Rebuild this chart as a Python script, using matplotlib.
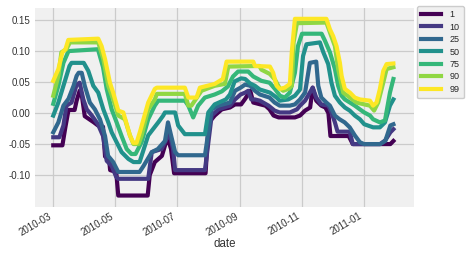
import matplotlib
matplotlib.use("Agg")
import matplotlib.pyplot as plt
import matplotlib.dates as mdates
import pandas as pd

# days since 2010-03-01 and rolling quantile values, one pair per percentile
start = pd.Timestamp("2010-03-01")

p1_days = [0, 9, 12, 15, 21, 23, 26, 28, 31, 40, 44, 49, 51, 55, 56, 62, 64, 93, 95, 100,
           107, 111, 113, 116, 119, 150, 153, 159, 166, 174, 179, 185, 189, 194, 197, 204, 209, 213, 217, 222,
           238, 243, 248, 253, 255.5, 259, 264, 268, 271, 273, 291, 295, 332, 335]
p1_vals = [-0.052, -0.052, -0.022, 0.005, 0.005, 0.02, 0.036, 0.03, -0.005, -0.015,
           -0.02, -0.022, -0.07, -0.075, -0.092, -0.095, -0.133, -0.133, -0.10, -0.079,
           -0.069, -0.047, -0.042, -0.058, -0.097, -0.097, -0.016, -0.004, 0.006, 0.009,
           0.014, 0.014, 0.023, 0.036, 0.017, 0.014, 0.012, 0.006, -0.004, -0.007,
           -0.007, -0.004, 0.004, 0.009, 0.041, 0.02, 0.012, 0.009, 0.0, -0.037,
           -0.037, -0.05, -0.05, -0.045]

p10_days = [0, 6, 10, 13, 18, 23, 26, 29.6, 33, 38, 44, 49, 52.6, 57.5, 62, 64, 93.5, 97, 106.6, 111.5,
            114.8, 118, 120, 149.4, 156, 162.6, 174, 179, 184.5, 189, 192, 195, 198.6, 203.5, 212, 218, 223, 233, 240, 243,
            248, 252.7, 255.5, 259, 264, 271, 274, 277.4, 280, 292, 295, 322, 327, 332, 335]
p10_vals = [-0.039, -0.039, -0.02, 0.012, 0.017, 0.046, 0.049, 0.022, 0.006, -0.004,
            -0.018, -0.037, -0.077, -0.085, -0.103, -0.106, -0.106, -0.063, -0.058, -0.042,
            -0.034, -0.058, -0.092, -0.092, -0.004, 0.006, 0.012, 0.022, 0.03, 0.033,
            0.036, 0.022, 0.022, 0.02, 0.012, 0.004, 0.001, 0.001, 0.006, 0.012,
            0.02, 0.033, 0.041, 0.025, 0.014, 0.012, 0.001, -0.015, -0.03, -0.03,
            -0.05, -0.05, -0.044, -0.031, -0.026]

p25_days = [0, 5, 10, 15, 20, 23, 25, 28, 31, 36, 41, 46, 51, 54, 59, 64, 85, 89, 97, 103,
            110, 113, 116, 120, 123, 149.4, 156, 162.6, 174, 179, 184.5, 189, 194, 198.6, 203.5, 213, 218, 223, 233, 238,
            243, 248, 252.7, 259, 261, 264, 269, 272.5, 277.4, 282, 287, 292, 297, 302, 306, 322, 327, 332, 335]
p25_vals = [-0.031, -0.015, 0.012, 0.023, 0.044, 0.06, 0.065, 0.065, 0.044, 0.017,
            0.006, -0.010, -0.037, -0.069, -0.079, -0.095, -0.095, -0.085, -0.063, -0.058,
            -0.045, -0.015, -0.036, -0.063, -0.068, -0.068, 0.006, 0.012, 0.017, 0.036,
            0.041, 0.046, 0.044, 0.036, 0.03, 0.025, 0.017, 0.012, 0.012, 0.014,
            0.022, 0.033, 0.081, 0.083, 0.044, 0.025, 0.017, 0.012, -0.004, -0.01,
            -0.015, -0.023, -0.036, -0.047, -0.05, -0.05, -0.045, -0.02, -0.018]

p50_days = [0, 5, 10, 16, 18, 30, 34.5, 39.4, 44.3, 49.3, 54.2, 57.5, 62.4, 67.3, 74, 79, 85, 87, 93.5, 103.4,
            108.3, 110, 120, 123, 129.6, 149.4, 152.7, 159, 170, 174, 178.6, 185, 189, 193.7, 198.6, 203.5, 213.4, 220, 223, 231.5,
            238, 243, 246, 249.4, 262.6, 266, 270.8, 274, 277.4, 282.3, 287.2, 292, 297, 302, 306.3, 315, 321.7, 326.7, 331.6, 335]
p50_vals = [-0.004, 0.017, 0.044, 0.076, 0.081, 0.081, 0.068, 0.044, 0.033, 0.006,
            -0.015, -0.031, -0.047, -0.063, -0.074, -0.079, -0.079, -0.069, -0.036, -0.015,
            -0.004, 0.001, 0.001, -0.02, -0.034, -0.034, 0.001, 0.014, 0.022, 0.03,
            0.051, 0.056, 0.055, 0.048, 0.044, 0.038, 0.033, 0.025, 0.02, 0.022,
            0.028, 0.038, 0.092, 0.111, 0.114, 0.098, 0.079, 0.049, 0.028, 0.017,
            0.009, 0.004, -0.004, -0.01, -0.018, -0.023, -0.023, -0.015, 0.012, 0.022]

p75_days = [0, 5, 10, 15, 44, 49, 52.6, 57.5, 62.4, 67.3, 72.3, 77, 81, 87, 93.5, 100, 103.4, 129.6, 133, 137.8,
            142.7, 149.3, 159, 166, 172, 177, 182, 192, 197, 205, 213, 218.3, 223.2, 228, 233, 238, 241, 245, 264.3, 267.5,
            272.5, 277.4, 280.6, 284, 287.2, 292.2, 297, 302, 306.3, 312, 315, 321.7, 326.7, 331.6, 335]
p75_vals = [0.015, 0.044, 0.081, 0.1, 0.103, 0.074, 0.039, 0.006, -0.015, -0.037,
            -0.058, -0.066, -0.066, -0.047, -0.01, 0.012, 0.02, 0.02, 0.012, -0.007,
            0.012, 0.025, 0.03, 0.035, 0.043, 0.059, 0.067, 0.067, 0.059, 0.052,
            0.049, 0.039, 0.028, 0.025, 0.033, 0.065, 0.108, 0.128, 0.128, 0.117,
            0.098, 0.071, 0.044, 0.028, 0.022, 0.017, 0.012, 0.006, 0.001, -0.004,
            -0.01, -0.015, -0.012, 0.033, 0.055]

p90_days = [0, 5, 8, 13, 16.4, 44.3, 49.3, 54.2, 59.1, 64, 70.6, 75.5, 79, 84, 87, 93.5, 100, 102, 129.6, 133,
            136, 139.4, 146, 159, 169, 172.4, 203, 205, 213.4, 218.3, 223, 226.5, 231.5, 235, 236.7, 240, 269, 272.5, 277.4, 280.6,
            285.6, 292.2, 298.8, 306.3, 311.9, 316, 320, 325, 328.3, 335]
p90_vals = [0.028, 0.06, 0.098, 0.103, 0.114, 0.114, 0.087, 0.044, 0.022, -0.004,
            -0.01, -0.036, -0.05, -0.05, -0.036, 0.006, 0.022, 0.031, 0.031, 0.012,
            0.012, 0.02, 0.036, 0.044, 0.047, 0.075, 0.076, 0.07, 0.063, 0.054,
            0.04, 0.036, 0.039, 0.044, 0.114, 0.145, 0.146, 0.130, 0.108, 0.071,
            0.033, 0.025, 0.017, 0.014, 0.012, 0.004, 0.017, 0.049, 0.071, 0.074]

p99_days = [0, 5, 9, 12, 14.8, 44.3, 47.6, 51, 55.8, 59, 64, 69, 72.3, 75.5, 78.8, 82, 85.4, 93.5, 100, 102,
            129.6, 133, 141.1, 144.4, 159, 167, 170.7, 197, 198.6, 213.4, 216.6, 220, 223, 228, 233, 235, 238, 269, 272.5, 275.7,
            279, 282.3, 284, 287.2, 292.2, 297, 302, 311.9, 315, 318.4, 321.7, 325, 328.3, 335]
p99_vals = [0.052, 0.071, 0.098, 0.103, 0.118, 0.12, 0.108, 0.087, 0.049, 0.033,
            0.004, 0.001, -0.018, -0.036, -0.048, -0.048, -0.03, 0.017, 0.039, 0.041,
            0.041, 0.025, 0.025, 0.041, 0.047, 0.055, 0.083, 0.083, 0.076, 0.075,
            0.065, 0.044, 0.039, 0.041, 0.047, 0.1, 0.152, 0.152, 0.135, 0.124,
            0.108, 0.081, 0.06, 0.039, 0.033, 0.025, 0.022, 0.02, 0.012, 0.017,
            0.039, 0.068, 0.079, 0.08]

labels = ["1", "10", "25", "50", "75", "90", "99"]
series = [(p1_days, p1_vals), (p10_days, p10_vals), (p25_days, p25_vals), (p50_days, p50_vals),
          (p75_days, p75_vals), (p90_days, p90_vals), (p99_days, p99_vals)]

plt.rcParams["font.family"] = ["Liberation Sans", "DejaVu Sans"]

fig = plt.figure(figsize=(4.69, 2.56), dpi=100)
ax = fig.add_axes([35 / 469, 1 - 206.7 / 256, 378.7 / 469, 198.4 / 256])
ax.set_facecolor("#f0f0f0")
for s in ax.spines.values():
    s.set_visible(False)
ax.grid(True, color="#cbcbcb", linewidth=0.9)
ax.set_axisbelow(True)

cmap = plt.get_cmap("viridis")
for i, (lab, (d, v)) in enumerate(zip(labels, series)):
    dates = start + pd.to_timedelta(d, unit="D")
    ax.plot(dates, v, color=cmap(i / 6), linewidth=3.0, label=lab)

ax.set_xlim(start - pd.Timedelta(days=18), start + pd.Timedelta(days=355))
ax.set_ylim(-0.151, 0.169)
ax.set_yticks([-0.10, -0.05, 0.0, 0.05, 0.10, 0.15])
ax.yaxis.set_major_formatter(plt.FormatStrFormatter("%.2f"))
ax.xaxis.set_major_locator(mdates.MonthLocator(bymonth=[1, 3, 5, 7, 9, 11]))
ax.xaxis.set_major_formatter(mdates.DateFormatter("%Y-%m"))
ax.tick_params(length=0, labelsize=7, colors="#333333", pad=3)
plt.setp(ax.get_xticklabels(), rotation=30, ha="right", rotation_mode="default")
ax.set_xlabel("date", fontsize=8.3, color="#333333")
ax.xaxis.set_label_coords(0.5, -0.16)

leg = ax.legend(loc="upper left", bbox_to_anchor=(416.7 / 469, 1 - 5.7 / 256),
                bbox_transform=fig.transFigure, borderaxespad=0, fontsize=6.5,
                handlelength=2.2, handletextpad=0.9, labelspacing=0.38, borderpad=0.5,
                fancybox=True, framealpha=1, facecolor="#f0f0f0", edgecolor="#cccccc")
for t in leg.get_texts():
    t.set_color("#262626")

fig.savefig("out.png", dpi=100, facecolor="white")
